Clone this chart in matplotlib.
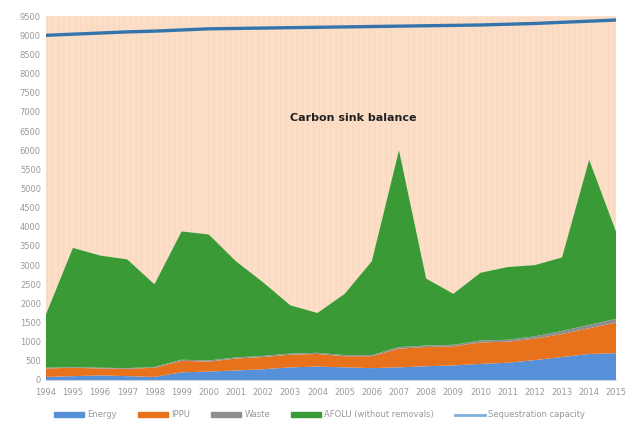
import numpy as np
import matplotlib.pyplot as plt
from matplotlib.patches import Patch
from matplotlib.lines import Line2D

years = list(range(1994, 2016))
energy = [80, 100, 120, 100, 80, 200, 220, 250, 280, 330, 350, 330,
          310, 330, 360, 380, 420, 450, 520, 600, 680, 700]
ippu = [220, 220, 180, 190, 240, 300, 260, 310, 320, 330, 330, 290,
        310, 490, 500, 500, 560, 550, 560, 600, 670, 800]
waste = [20, 20, 20, 20, 20, 30, 30, 30, 30, 30, 30, 30,
         30, 40, 40, 40, 50, 50, 60, 80, 90, 100]
afolu = [1380, 3110, 2930, 2840, 2160, 3350, 3290, 2510, 1920, 1260, 1040, 1600,
         2450, 5140, 1750, 1330, 1770, 1900, 1860, 1920, 4310, 2250]
sequestration = [9000, 9030, 9060, 9090, 9110, 9140, 9170, 9180, 9190, 9200, 9210,
                 9220, 9230, 9240, 9250, 9260, 9270, 9290, 9310, 9340, 9370, 9400]

c_energy = "#5590D8"
c_ippu = "#E8711B"
c_waste = "#8E8E8E"
c_afolu = "#3A9A35"
c_seq = "#3474AC"
c_peach = "#FCDDC6"

fig = plt.figure(figsize=(6.27, 4.26), dpi=100)
ax = fig.add_axes([0.073, 0.108, 0.91, 0.854])

stack = np.vstack([energy, ippu, waste, afolu])
total = stack.sum(axis=0)

plt.rcParams['hatch.linewidth'] = 0.3
ax.fill_between(years, total, 9500, facecolor=c_peach, edgecolor="#F5D3BB",
                hatch="|||", linewidth=0)
ax.stackplot(years, stack, colors=[c_energy, c_ippu, c_waste, c_afolu],
             linewidth=0)
ax.plot(years, sequestration, color=c_seq, lw=2.4)

ax.text(2005.3, 6840, "Carbon sink balance", fontsize=8, fontweight="bold",
        ha="center", va="center", color="#222222")

ax.set_xlim(1994, 2015)
ax.set_ylim(0, 9500)
ax.set_yticks(np.arange(0, 9501, 500))
ax.set_xticks(years)
ax.tick_params(axis="both", length=0, labelsize=6, labelcolor="#999999")
ax.tick_params(axis="x", pad=6)
for s in ["top", "right", "left"]:
    ax.spines[s].set_visible(False)
ax.spines["bottom"].set_color("#c8d6e6")

handles = [Patch(color=c_energy), Patch(color=c_ippu), Patch(color=c_waste),
           Patch(color=c_afolu), Line2D([], [], color="#7FB0DD", lw=2)]
labels = ["Energy", "IPPU", "Waste", "AFOLU (without removals)",
          "Sequestration capacity"]
fig.legend(handles, labels, loc="center", bbox_to_anchor=(0.51, 0.026),
           ncol=5, frameon=False, fontsize=6, labelcolor="#999999",
           handlelength=3.6, handleheight=0.7, columnspacing=2.5,
           handletextpad=0.4)

fig.savefig("out.png", dpi=100)
